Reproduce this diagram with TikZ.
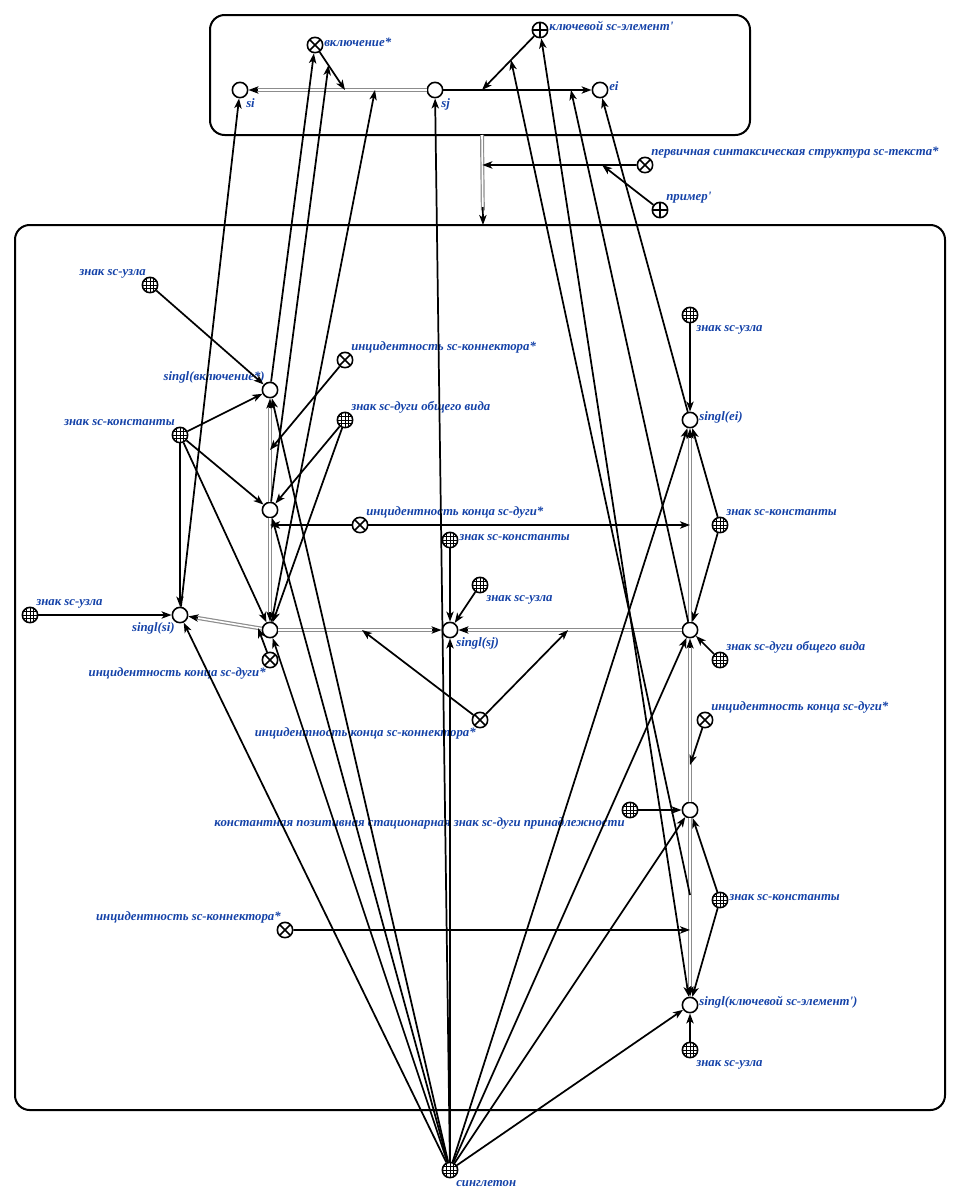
\documentclass[tikz,border=0pt]{standalone}
\usepackage{fontspec}
\setmainfont{Liberation Serif}
\usetikzlibrary{arrows.meta,calc}
\definecolor{labelblue}{RGB}{20,66,168}
\definecolor{pairgray}{RGB}{140,140,140}
% common (double-line) arc with a black arrow tip at its end
\newcommand\commonarc[2]{%
  \draw[pairline] (#1) -- ($(#2)!11pt!(#1)$);
  \draw[arc] ($(#2)!13.5pt!(#1)$) -- (#2);}
\begin{document}
\begin{tikzpicture}[x=0.75pt,y=-0.75pt,
  >={Stealth[length=7.5pt,width=5.5pt,inset=2pt]},
  frame/.style={draw,line width=1.5pt,rounded corners=11pt,inner sep=0pt},
  elem/.style={circle,draw,line width=1.2pt,fill=white,minimum size=11.5pt,inner sep=0pt},
  relation/.style={elem,path picture={\draw[line width=1.1pt]
      (path picture bounding box.north west) -- (path picture bounding box.south east)
      (path picture bounding box.north east) -- (path picture bounding box.south west);}},
  role/.style={elem,path picture={\draw[line width=1.1pt]
      (path picture bounding box.north) -- (path picture bounding box.south)
      (path picture bounding box.west) -- (path picture bounding box.east);}},
  class/.style={elem,path picture={\foreach \d in {-2.6,0,2.6}{
      \draw[line width=0.55pt] ([xshift=\d pt]path picture bounding box.north) -- ([xshift=\d pt]path picture bounding box.south);
      \draw[line width=0.55pt] ([yshift=\d pt]path picture bounding box.west) -- ([yshift=\d pt]path picture bounding box.east);}}},
  lab/.style={text=labelblue,font=\bfseries\itshape\fontsize{9.6}{11}\selectfont,inner sep=0pt,text height=7pt,text depth=2pt},
  arc/.style={line width=1.3pt,->},
  arcboth/.style={line width=1.3pt,<->},
  pairline/.style={draw=pairgray,line width=0.9pt,double=white,double distance=1.2pt}]
\useasboundingbox (0,0) rectangle (961,1200);

% frames
\node[frame,minimum width=405pt,minimum height=90pt] (upper) at (480,75) {};
\node[frame,minimum width=697.5pt,minimum height=663.75pt] (lower) at (480,667.5) {};

% labels
\node[lab,anchor=west] (t-si) at (246,104) {si};
\node[lab,anchor=west] (t-sj) at (441,104) {sj};
\node[lab,anchor=west] (t-ei) at (609,87) {ei};
\node[lab,anchor=west] (t-incl) at (324,43) {включение*};
\node[lab,anchor=west] (t-key) at (549,27) {ключевой sc-элемент\textquotesingle};
\node[lab,anchor=west] (t-pss) at (651,152) {первичная синтаксическая структура sc-текста*};
\node[lab,anchor=west] (t-ex) at (666,197) {пример\textquotesingle};

\node[lab,anchor=east] (t-zu1) at (146,272) {знак sc-узла};
\node[lab,anchor=east] (t-sv) at (265,377) {singl(включение*)};
\node[lab,anchor=east] (t-zk1) at (175,422) {знак sc-константы};
\node[lab,anchor=west] (t-isk1) at (351,347) {инцидентность sc-коннектора*};
\node[lab,anchor=west] (t-zd1) at (351,407) {знак sc-дуги общего вида};
\node[lab,anchor=west] (t-ik1) at (366,512) {инцидентность конца sc-дуги*};
\node[lab,anchor=west] (t-zk2) at (459,537) {знак sc-константы};
\node[lab,anchor=west] (t-zu2) at (486,598) {знак sc-узла};
\node[lab,anchor=west] (t-zu3) at (36,602) {знак sc-узла};
\node[lab,anchor=east] (t-ssi) at (175,628) {singl(si)};
\node[lab,anchor=east] (t-ik2) at (266,673) {инцидентность конца sc-дуги*};
\node[lab,anchor=west] (t-ssj) at (456,643) {singl(sj)};
\node[lab,anchor=east] (t-ikk) at (476,733) {инцидентность конца sc-коннектора*};
\node[lab,anchor=west] (t-zu4) at (696,328) {знак sc-узла};
\node[lab,anchor=west] (t-sei) at (699,417) {singl(ei)};
\node[lab,anchor=west] (t-zk3) at (726,512) {знак sc-константы};
\node[lab,anchor=west] (t-zd2) at (726,647) {знак sc-дуги общего вида};
\node[lab,anchor=west] (t-ik3) at (711,707) {инцидентность конца sc-дуги*};
\node[lab,anchor=east] (t-zp) at (625,823) {константная позитивная стационарная знак sc-дуги принадлежности};
\node[lab,anchor=west] (t-zk4) at (729,897) {знак sc-константы};
\node[lab,anchor=east] (t-isk2) at (281,917) {инцидентность sc-коннектора*};
\node[lab,anchor=west] (t-skl) at (699,1002) {singl(ключевой sc-элемент\textquotesingle)};
\node[lab,anchor=west] (t-zu5) at (696,1063) {знак sc-узла};
\node[lab,anchor=west] (t-sing) at (456,1183) {синглетон};

% upper structure
\node[elem] (si) at (240,90) {};
\node[elem] (sj) at (435,90) {};
\node[elem] (ei) at (600,90) {};
\node[relation] (incl) at (315,45) {};
\node[role] (key) at (540,30) {};
\node[relation] (pss) at (645,165) {};
\node[role] (ex) at (660,210) {};

% lower structure
\node[class] (zu1) at (150,285) {};
\node[elem] (sv) at (270,390) {};
\node[class] (zk1) at (180,435) {};
\node[relation] (isk1) at (345,360) {};
\node[class] (zd1) at (345,420) {};
\node[elem] (a1) at (270,510) {};
\node[relation] (ik1) at (360,525) {};
\node[class] (zk2) at (450,540) {};
\node[class] (zu2) at (480,585) {};
\node[class] (zu3) at (30,615) {};
\node[elem] (ssi) at (180,615) {};
\node[elem] (b1) at (270,630) {};
\node[relation] (ik2) at (270,660) {};
\node[elem] (ssj) at (450,630) {};
\node[relation] (ikk) at (480,720) {};
\node[class] (zu4) at (690,315) {};
\node[elem] (sei) at (690,420) {};
\node[class] (zk3) at (720,525) {};
\node[elem] (c1) at (690,630) {};
\node[class] (zd2) at (720,660) {};
\node[relation] (ik3) at (705,720) {};
\node[elem] (d1) at (690,810) {};
\node[class] (zp) at (630,810) {};
\node[class] (zk4) at (720,900) {};
\node[relation] (isk2) at (285,930) {};
\node[elem] (skl) at (690,1005) {};
\node[class] (zu5) at (690,1050) {};
\node[class] (sing) at (450,1170) {};

% points on connectors
\coordinate (ma) at ($(sj)!0.4615!(si)$);
\coordinate (me) at ($(sj)!0.3077!(si)$);
\coordinate (mb) at ($(sj)!0.285!(ei)$);
\coordinate (mf) at ($(sj)!0.824!(ei)$);
\coordinate (mA) at ($(incl)!0.45!(ma)$);
\coordinate (mB) at ($(key)!0.5!(mb)$);
\coordinate (bt) at (482,135);
\coordinate (bb) at (483,225);
\coordinate (mc) at ($(bt)!0.333!(bb)$);
\coordinate (md) at ($(pss)!0.264!(mc)$);
\coordinate (m1) at ($(a1)!0.5!(sv)$);
\coordinate (m2) at ($(a1)!0.125!(b1)$);
\coordinate (m3) at ($(c1)!0.5!(sei)$);
\coordinate (m4) at ($(b1)!0.133!(ssi)$);
\coordinate (m5) at ($(b1)!0.511!(ssj)$);
\coordinate (m6) at ($(c1)!0.508!(ssj)$);
\coordinate (m7) at ($(d1)!0.25!(c1)$);
\coordinate (m8) at ($(d1)!0.615!(skl)$);
\coordinate (q) at ($(d1)!0.436!(skl)$);

% upper connectors
\commonarc{sj}{si}
\draw[arc] (sj) -- (ei);
\draw[arc] (incl) -- (ma);
\draw[arc] (key) -- (mb);
\commonarc{bt}{bb}
\draw[arc] (pss) -- (mc);
\draw[arc] (ex) -- (md);

% lower connectors
\commonarc{a1}{sv}
\commonarc{a1}{b1}
\commonarc{b1}{ssi}
\commonarc{b1}{ssj}
\commonarc{c1}{ssj}
\commonarc{c1}{sei}
\commonarc{d1}{c1}
\commonarc{d1}{skl}

\draw[arc] (zu1) -- (sv);
\draw[arc] (zk1) -- (sv);
\draw[arc] (zk1) -- (a1);
\draw[arc] (zk1) -- (ssi);
\draw[arc] (zk1) -- (b1);
\draw[arc] (isk1) -- (m1);
\draw[arc] (zd1) -- (a1);
\draw[arc] (zd1) -- (b1);
\draw[arc] (ik1) -- (m2);
\draw[arc] (ik1) -- (m3);
\draw[arc] (zk2) -- (ssj);
\draw[arc] (zu2) -- (ssj);
\draw[arc] (zu3) -- (ssi);
\draw[arc] (ik2) -- (m4);
\draw[arc] (ikk) -- (m5);
\draw[arc] (ikk) -- (m6);
\draw[arc] (zu4) -- (sei);
\draw[arc] (zk3) -- (sei);
\draw[arc] (zk3) -- (c1);
\draw[arc] (zd2) -- (c1);
\draw[arc] (ik3) -- (m7);
\draw[arc] (zp) -- (d1);
\draw[arc] (zk4) -- (d1);
\draw[arc] (zk4) -- (skl);
\draw[arc] (isk2) -- (m8);
\draw[arc] (zu5) -- (skl);

% singleton
\foreach \t in {ssi,b1,a1,sv,sj,ssj,sei,c1,d1,skl}
  \draw[arc] (sing) -- (\t);

% links between the two structures
\draw[arc] (ssi) -- (si);
\draw[arc] (sv) -- (incl);
\draw[arc] (a1) -- (mA);
\draw[arc] (b1) -- (me);
\draw[arc] (sei) -- (ei);
\draw[arc] (c1) -- (mf);
\draw[arcboth] (skl) -- (key);
\draw[arc] (q) -- (mB);
\end{tikzpicture}
\end{document}
